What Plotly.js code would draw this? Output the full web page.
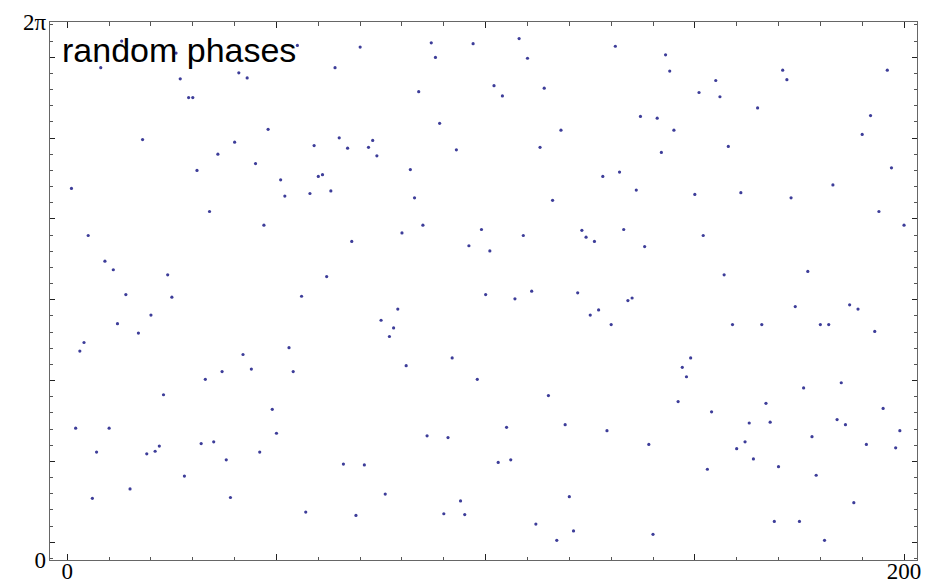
<!DOCTYPE html>
<html>
<head>
<meta charset="utf-8">
<script src="https://cdn.plot.ly/plotly-3.0.1.min.js"></script>
<style>html,body{margin:0;padding:0;background:#fff;}#chart{width:927px;height:587px;}</style>
</head>
<body>
<div id="chart"></div>
<script>
// phase value of each sample (sample index 1..200)
const phases = [
4.34,1.54,2.44,2.54,3.79,0.72,1.26,5.75,3.49,1.54,
3.39,2.76,6.06,3.10,0.83,6.00,2.65,4.91,1.24,2.86,
1.27,1.33,1.93,3.33,3.07,5.92,5.62,0.98,5.40,5.40,
4.55,1.36,2.11,4.07,1.38,4.74,2.20,1.17,0.73,4.88,
5.69,2.40,5.63,2.23,4.63,1.26,3.91,5.03,1.76,1.48,
4.44,4.25,2.48,2.20,6.01,3.08,0.56,4.28,4.84,4.48,
4.50,3.31,4.31,5.75,4.93,1.12,4.81,3.72,0.52,5.99,
1.11,4.82,4.90,4.72,2.80,0.77,2.61,2.71,2.93,3.82,
2.27,4.56,4.23,5.47,3.91,1.45,6.04,5.87,5.10,0.54,
1.43,2.36,4.79,0.69,0.53,3.67,6.03,2.11,3.86,3.10,
3.61,5.54,1.14,5.42,1.55,1.17,3.05,6.09,3.79,5.86,
3.14,0.42,4.82,5.51,1.92,4.20,0.23,5.02,1.58,0.74,
0.34,3.12,3.85,3.77,2.86,3.72,2.92,4.48,1.51,2.75,
6.00,4.53,3.86,3.03,3.06,4.32,5.18,3.66,1.35,0.30,
5.16,4.76,5.90,5.71,5.02,1.85,2.25,2.14,2.36,4.27,
5.46,3.79,1.06,1.73,5.60,5.41,3.33,4.83,2.75,1.30,
4.29,1.38,1.60,1.18,5.28,2.75,1.83,1.61,0.45,1.09,
5.72,5.61,4.23,2.96,0.45,2.01,3.37,1.44,0.99,2.75,
0.23,2.75,4.38,1.64,2.07,1.58,2.98,0.67,2.93,4.97,
1.35,5.19,2.67,4.07,1.77,5.72,4.58,1.31,1.51,3.91
];
const sampleIndex = phases.map((_, i) => i + 1);
const labelText = "random phases";
const xTickLabels = ["0", "", "", "", "200"];
const xTickVals = [0, 50, 100, 150, 200];
const yTickLabels = ["0", "2\u03C0"];

const TWO_PI = 2 * Math.PI;
const yMajorStart = 0.207, yMajorStep = 0.944;
const yVals = [0, TWO_PI], yText = yTickLabels.slice();
for (let v = yMajorStart; v < TWO_PI - 0.1; v += yMajorStep) { yVals.push(v); yText.push(""); }

const frameColor = "#666";
const trace = {
  x: sampleIndex, y: phases, type: "scatter", mode: "markers",
  marker: {size: 3.2, color: "rgb(61,61,153)"},
  hoverinfo: "x+y", showlegend: false
};
const layout = {
  width: 927, height: 587,
  margin: {l: 50, r: 10, t: 22, b: 27, pad: 0},
  paper_bgcolor: "#fff", plot_bgcolor: "#fff",
  font: {family: "Liberation Serif, Times New Roman, serif", size: 23, color: "#000"},
  xaxis: {
    range: [-4.13, 203.1], showgrid: false, zeroline: false, automargin: false,
    showline: true, mirror: "ticks", linecolor: frameColor, linewidth: 1.3,
    tickmode: "array", tickvals: xTickVals, ticktext: xTickLabels,
    ticks: "inside", ticklen: 6, tickwidth: 1, tickcolor: "#222",
    ticklabelstandoff: -10,
    minor: {tick0: 0, dtick: 10, ticks: "inside", ticklen: 3.5, tickcolor: "#555", tickwidth: 1},
    tickfont: {family: "Liberation Serif, serif", size: 23, color: "#000"}
  },
  yaxis: {
    range: [0, TWO_PI], showgrid: false, zeroline: false, automargin: false,
    showline: true, mirror: "ticks", linecolor: frameColor, linewidth: 1.3,
    tickmode: "array", tickvals: yVals, ticktext: yText,
    ticks: "inside", ticklen: 5, tickwidth: 1, tickcolor: "#222",
    ticklabelstandoff: -2,
    minor: {tick0: yMajorStart, dtick: yMajorStep / 5, ticks: "inside", ticklen: 3, tickcolor: "#555", tickwidth: 1},
    tickfont: {family: "Liberation Serif, serif", size: 23, color: "#000"}
  },
  annotations: [{
    text: labelText, xref: "paper", yref: "paper",
    x: 0.0127, y: 0.948, xanchor: "left", yanchor: "middle",
    showarrow: false, borderpad: 0,
    font: {family: "Liberation Sans, Arial, sans-serif", size: 34, color: "#000"}
  }]
};
Plotly.newPlot("chart", [trace], layout, {staticPlot: true, displayModeBar: false});
</script>
</body>
</html>
